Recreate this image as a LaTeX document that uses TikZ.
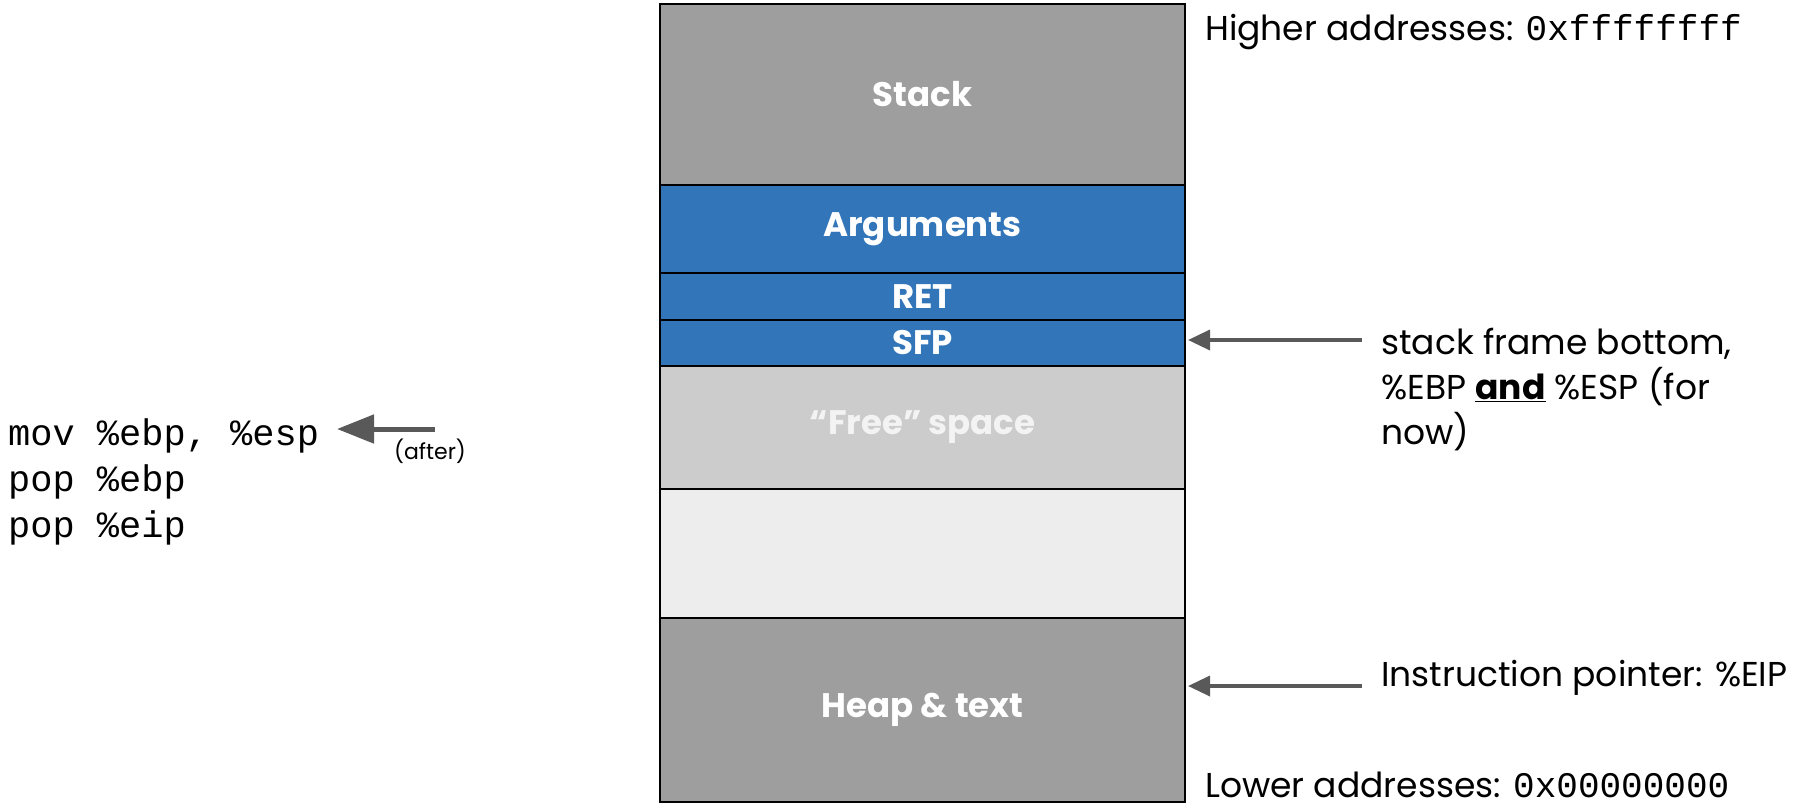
\documentclass[tikz,border=0pt]{standalone}
\usepackage{fontspec}
\setmainfont{Poppins}
\setmonofont{Liberation Mono}
\usetikzlibrary{positioning}
\usetikzlibrary{arrows.meta}
\definecolor{stackgray}{HTML}{9E9E9E}
\definecolor{frameblue}{HTML}{3276B9}
\definecolor{freegray}{HTML}{CCCCCC}
\definecolor{emptygray}{HTML}{EDEDED}
\definecolor{freetext}{HTML}{F3F3F3}
\definecolor{ptrgray}{HTML}{595959}
\def\segwidth{525 pt}
\newcommand{\addr}[1]{{\fontsize{36}{40}\selectfont\ttfamily #1}}
\tikzset{
  seg/.style = {draw = black, line width = 2 pt, minimum width = \segwidth,
    inner sep = 0 pt, outer sep = 0 pt, text = white,
    font = \bfseries\fontsize{34}{40}\selectfont},
  note/.style = {inner sep = 0 pt, font = \fontsize{34.5}{45}\selectfont},
  code/.style = {inner sep = 0 pt, font = \ttfamily\fontsize{37}{46}\selectfont},
  ptr/.style = {draw = ptrgray, line width = 3.5pt,
    -{Triangle[length=22pt, width=20pt]}, shorten > = 3pt},
  bigptr/.style = {draw = ptrgray, line width = 5pt,
    -{Triangle[length=37pt, width=28pt]}}
}

\begin{document}
\begin{tikzpicture} [x = 1 pt, y = -1 pt]
    \useasboundingbox (0, 0) rectangle (1795, 804);

    \node[seg, fill = stackgray, minimum height = 181 pt] (stack)
      at (922.5, 94.5) {Stack};
    \node[seg, fill = frameblue, minimum height = 88 pt,
      below = 0 pt of stack] (args) {Arguments};
    \node[seg, fill = frameblue, minimum height = 47 pt,
      below = 0 pt of args] (ret) {RET};
    \node[seg, fill = frameblue, minimum height = 46 pt,
      below = 0 pt of ret] (sfp) {SFP};
    \node[seg, fill = freegray, text = freetext, minimum height = 123 pt,
      below = 0 pt of sfp] (free) {“Free” space};
    \node[seg, fill = emptygray, minimum height = 129 pt,
      below = 0 pt of free] (empty) {};
    \node[seg, fill = stackgray, minimum height = 184 pt,
      below = 0 pt of empty] (heap) {Heap \& text};

    \node[note, anchor = west] (hightxt) at (1205, 32)
      {Higher addresses: \addr{0xffffffff}};
    \node[note, anchor = west, align = left] (ebptxt) at (1381, 390)
      {stack frame bottom,\\ \%EBP \underline{\textbf{and}} \%ESP (for\\ now)};
    \node[note, anchor = west] (eiptxt) at (1381, 678)
      {Instruction pointer: \%EIP};
    \node[note, anchor = base west, text depth = 0 pt] (lowtxt) at (1205, 797)
      {Lower addresses: \addr{0x00000000}};

    \coordinate (ebptail) at (1362, 340);
    \coordinate (eiptail) at (1362, 686);
    \draw[ptr] (ebptail) -- (ebptail -| sfp.east);
    \draw[ptr] (eiptail) -- (eiptail -| heap.east);

    \node[code, anchor = west, align = left] (epilog) at (8, 482)
      {mov \%ebp, \%esp\\ pop \%ebp\\ pop \%eip};
    \coordinate (aftertail) at (435, 429);
    \coordinate (afterhead) at (337, 429);
    \draw[bigptr] (aftertail) -- (afterhead);
    \node[inner sep = 0 pt, font = \fontsize{22}{26}\selectfont] (aftertxt)
      at (430, 451) {(after)};
  \end{tikzpicture}
\end{document}
